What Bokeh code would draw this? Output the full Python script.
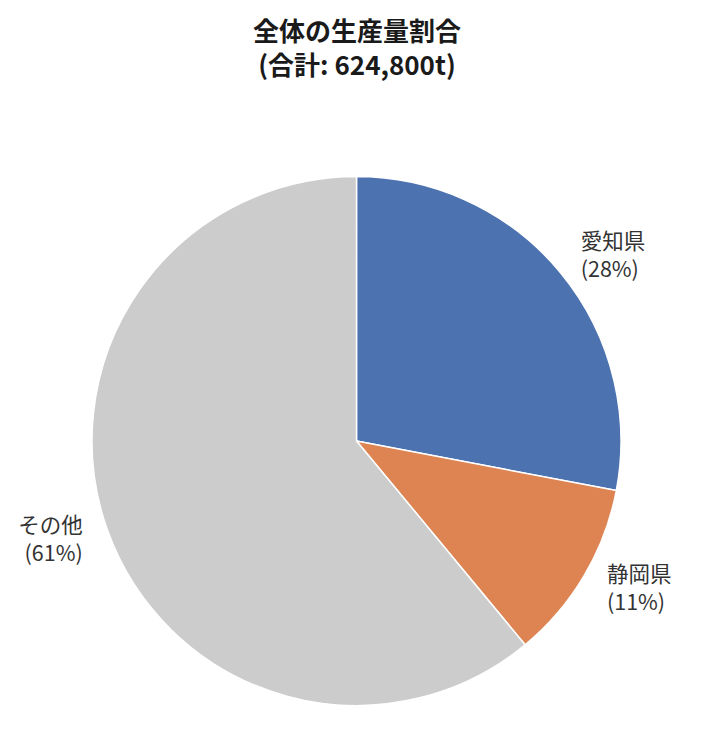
import numpy as np
from bokeh.plotting import figure
from bokeh.models import Range1d, ColumnDataSource
from bokeh.core.properties import value
from bokeh.embed import file_html
from bokeh.resources import INLINE

# ---- data ----
categories = ["愛知県", "静岡県", "その他"]
shares = [28, 11, 61]          # percent of total production
colors = ["#4C72B0", "#DD8452", "#CCCCCC"]
title_lines = ["全体の生産量割合", "(合計: 624,800t)"]

FONT = "Noto Sans CJK JP"
W, H = 691, 729
cx, cy, r = 356, H - 440.5, 264.5

p = figure(width=W, height=H, output_backend="svg", toolbar_location=None,
           x_range=Range1d(0, W), y_range=Range1d(0, H),
           x_axis_location=None, y_axis_location=None,
           min_border=0, min_border_left=0, min_border_right=0,
           min_border_top=0, min_border_bottom=0)
p.grid.visible = False
p.outline_line_color = None
p.background_fill_color = "white"
p.border_fill_color = "white"

vals = np.array(shares, dtype=float)
frac = vals / vals.sum()
cum = np.concatenate([[0], np.cumsum(frac)])
start = np.pi / 2 - cum[:-1] * 2 * np.pi
end = np.pi / 2 - cum[1:] * 2 * np.pi

src = ColumnDataSource(dict(start=start, end=end, color=colors, cat=categories))
p.wedge(x=cx, y=cy, radius=r, start_angle="start", end_angle="end",
        direction="clock", fill_color="color", line_color="white",
        line_width=1.5, source=src)

# labels at 1.1 * radius
mid = (cum[:-1] + cum[1:]) / 2 * 2 * np.pi   # clockwise from top
lx = cx + 1.1 * r * np.sin(mid)
ly = cy + 1.1 * r * np.cos(mid) + 2.5
pct = [f"({round(f * 100):d}%)" for f in frac]
for i in range(len(categories)):
    align = "left" if lx[i] > cx else "right"
    for txt, off in ((categories[i], 14), (pct[i], -14)):
        p.text(x=[lx[i]], y=[ly[i] + off], text=[txt], text_align=align,
               text_baseline="middle", text_font=value(FONT),
               text_font_size="21.5px", text_color="#333333")

# title
for txt, yy in ((title_lines[0], H - 29), (title_lines[1], H - 63)):
    p.text(x=[cx + 0.5], y=[yy], text=[txt], text_align="center",
           text_baseline="middle", text_font=value(FONT),
           text_font_size="26px", text_font_style="bold", text_color="#1a1a1a")

open("out.html", "w").write(file_html(p, INLINE))
